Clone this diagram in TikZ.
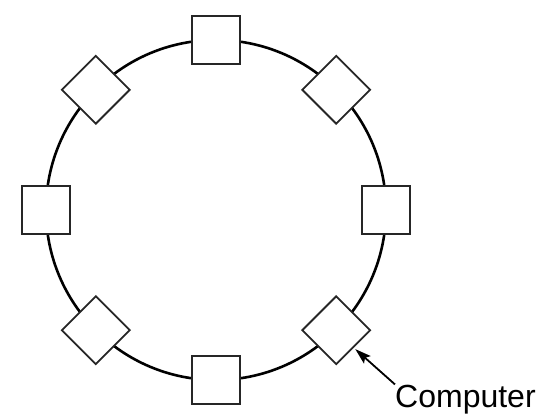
\documentclass[tikz,border=0pt]{standalone}
\usepackage{fontspec}
\setmainfont{Liberation Sans}
\usepackage{tikz}
\usetikzlibrary{positioning,arrows.meta,calc}
\tikzset{
  ring/.style={draw=black, line width=2.6pt},
  comp/.style={rectangle, draw=black!85, fill=white, line width=1.8pt, minimum size=48pt, inner sep=0pt},
  lbl/.style={inner sep=0pt, font=\fontsize{32}{38}\selectfont},
  ptr/.style={-{Stealth[length=16pt, width=10pt, inset=3pt]}, line width=1.8pt},
}
\begin{document}
\begin{tikzpicture}[x=1pt,y=1pt]
  \useasboundingbox (0,0) rectangle (546,415);
  \coordinate (O) at (216,205);
  \draw[ring] (O) circle (170);
  \foreach \a in {0,45,...,315}
    \node[comp, rotate=\a] (c\a) at ($(O)+(\a:170)$) {};
  \node[lbl, anchor=base west] (name) at (395,8) {Computer};
  \draw[ptr, shorten >=2pt] (name.north west) -- (c315.east);
\end{tikzpicture}
\end{document}
